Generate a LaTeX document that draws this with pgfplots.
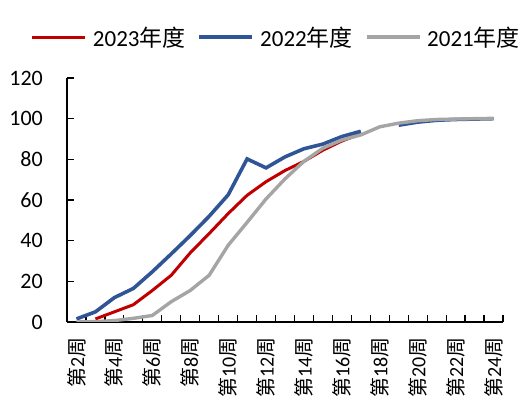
\documentclass[border=0pt]{standalone}
\usepackage{pgfplots}
\pgfplotsset{compat=1.18}
\usepackage{fontspec}
\setmainfont{Carlito}
\newfontfamily\cjk{Noto Sans CJK SC}

\definecolor{cRed}{HTML}{C00000}
\definecolor{cBlue}{HTML}{2F5597}
\definecolor{cGray}{HTML}{A5A5A5}

% cumulative progress (%) by week
\pgfplotstableread{
week y2023 y2022 y2021
2  nan  1.5  0.0
3  1.5  5.0  0.2
4  5.0  12.0 0.7
5  8.5  16.5 1.8
6  15.5 24.7 3.2
7  23.0 33.5 10.0
8  34.0 42.5 15.5
9  43.5 52.0 23.0
10 53.3 62.5 37.7
11 62.3 80.2 49.0
12 69.0 75.8 60.5
13 74.5 81.2 70.4
14 79.0 85.2 79.0
15 84.5 87.5 85.5
16 89.0 91.2 89.5
17 92.5 93.8 92.0
18 nan  nan  96.0
19 nan  96.8 97.8
20 nan  98.3 99.0
21 nan  99.2 99.6
22 nan  99.6 99.8
23 nan  99.8 100.0
24 nan  100.0 100.0
}\progress

\begin{document}
\begin{tikzpicture}[x=1bp,y=1bp,font=\fontsize{22bp}{26bp}\selectfont]
\begin{axis}[
  at={(67bp,78bp)}, anchor=south west,
  width=436bp, height=244bp, scale only axis,
  xmin=1.5, xmax=24.5, ymin=0, ymax=120,
  axis x line*=bottom, axis y line*=left,
  axis line style={line width=1.5bp, black},
  tick align=inside,
  major tick length=7bp, minor tick length=7bp,
  tick style={line width=1.2bp, black},
  xtick={2,4,...,24},
  xticklabels={{\cjk 第}2{\cjk 周},{\cjk 第}4{\cjk 周},{\cjk 第}6{\cjk 周},{\cjk 第}8{\cjk 周},{\cjk 第}10{\cjk 周},{\cjk 第}12{\cjk 周},{\cjk 第}14{\cjk 周},{\cjk 第}16{\cjk 周},{\cjk 第}18{\cjk 周},{\cjk 第}20{\cjk 周},{\cjk 第}22{\cjk 周},{\cjk 第}24{\cjk 周}},
  major x tick style={draw=none},
  minor xtick={1.5,2.5,...,24.5},
  minor x tick style={line width=1.2bp, black},
  xticklabel style={rotate=90, anchor=east, inner sep=0pt, xshift=-15.5bp,
    font=\fontsize{20bp}{24bp}\selectfont},
  ytick={0,20,...,120},
  yticklabel style={anchor=east, inner sep=0pt, xshift=-24bp},
  /pgf/number format/assume math mode=true,
  unbounded coords=jump,
  legend columns=3,
  legend style={draw=none, fill=none, inner sep=0pt, at={(0.478,1.168)}, anchor=center,
    font=\fontsize{23bp}{27bp}\selectfont,
    nodes={inner sep=0pt, text depth=0pt},
    /tikz/every odd column/.append style={column sep=6bp},
    /tikz/every even column/.append style={column sep=12bp}},
  legend image code/.code={\draw[#1] (0bp,0bp) -- (53bp,0bp);},
]
\addplot[cRed, line width=3bp] table[x=week, y=y2023] {\progress};
\addlegendentry{2023{\cjk 年度}}
\addplot[cBlue, line width=3.6bp] table[x=week, y=y2022] {\progress};
\addlegendentry{2022{\cjk 年度}}
\addplot[cGray, line width=3.4bp] table[x=week, y=y2021] {\progress};
\addlegendentry{2021{\cjk 年度}}
\end{axis}
\pgfresetboundingbox
\path[use as bounding box] (0,0) rectangle (521bp,400bp);
\end{tikzpicture}
\end{document}
